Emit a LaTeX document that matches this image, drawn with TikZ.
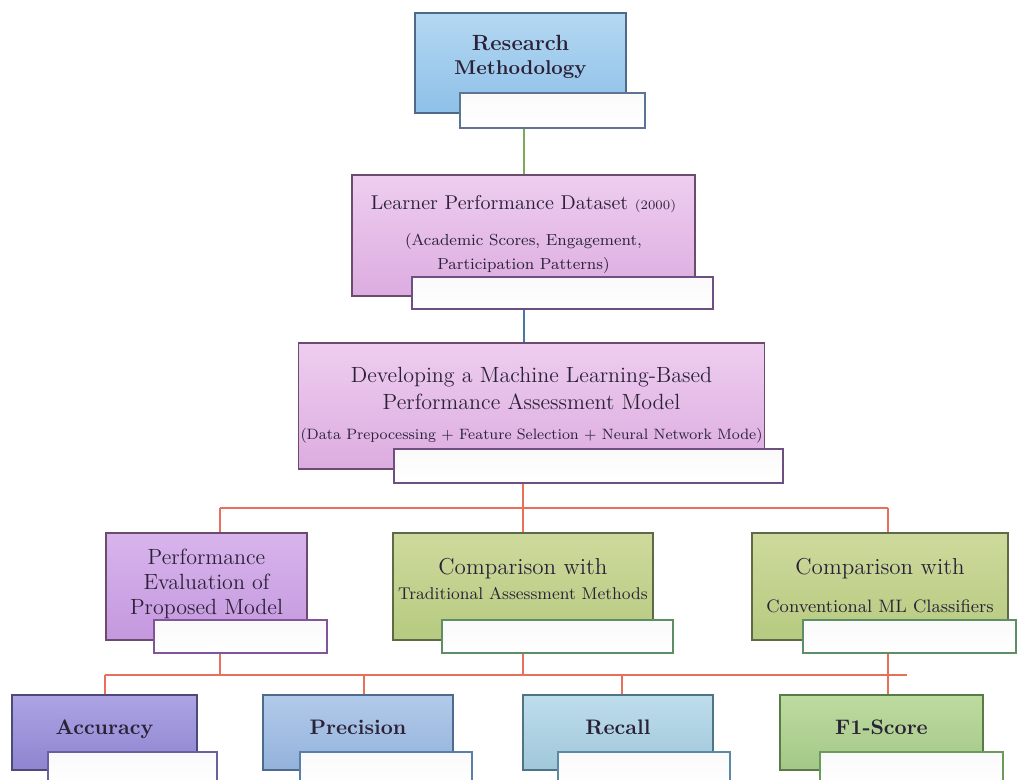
\documentclass[tikz,border=0pt]{standalone}
\usepackage{amsmath}

\definecolor{inkc}{HTML}{2B2238}
\definecolor{rmtop}{HTML}{B4D8F2}
\definecolor{rmbot}{HTML}{8EC0E8}
\definecolor{rmline}{HTML}{4E6A88}
\definecolor{pktop}{HTML}{EECDEF}
\definecolor{pkbot}{HTML}{DCACE0}
\definecolor{pkline}{HTML}{6B4B6E}
\definecolor{vltop}{HTML}{D8B4EC}
\definecolor{vlbot}{HTML}{C498DE}
\definecolor{grtop}{HTML}{CDDA9C}
\definecolor{grbot}{HTML}{B7CA80}
\definecolor{grline}{HTML}{5C6B45}
\definecolor{actop}{HTML}{ACA4E4}
\definecolor{acbot}{HTML}{8E84D0}
\definecolor{acline}{HTML}{4E4A78}
\definecolor{prtop}{HTML}{B2CAEA}
\definecolor{prbot}{HTML}{93B2DB}
\definecolor{prline}{HTML}{4E6A8C}
\definecolor{retop}{HTML}{BEDDEB}
\definecolor{rebot}{HTML}{A0C7DA}
\definecolor{reline}{HTML}{4E7486}
\definecolor{fotop}{HTML}{BEDBA0}
\definecolor{fobot}{HTML}{A3C886}
\definecolor{foline}{HTML}{5A7A48}
\definecolor{rmtabc}{HTML}{5B7592}
\definecolor{pktabc}{HTML}{6E4F82}
\definecolor{vltabc}{HTML}{80559A}
\definecolor{grtabc}{HTML}{5E8E66}
\definecolor{actabc}{HTML}{6A60A0}
\definecolor{prtabc}{HTML}{5A7EA6}
\definecolor{retabc}{HTML}{5A8AA4}
\definecolor{fotabc}{HTML}{6A9A5C}
\definecolor{lkgreen}{HTML}{7AAA55}
\definecolor{lkblue}{HTML}{4678A6}
\definecolor{lkred}{HTML}{E8705A}

\begin{document}
\begin{tikzpicture}[x=0.5pt, y=-0.5pt,
  box/.style={draw=#1, line width=0.7pt, align=center, inner sep=1pt, text=inkc},
  tab/.style={draw=#1, top color=black!2, middle color=black!5, bottom color=white, line width=0.7pt, inner sep=0pt},
  link/.style={draw=#1, line width=1pt}]
\useasboundingbox (0,0) rectangle (1017,780);

\node[box=rmline, top color=rmtop, bottom color=rmbot, minimum width=105.5pt, minimum height=50pt, text depth=8pt] (rm) at (520.5,63)
  {\fontsize{11}{13}\selectfont\bfseries Research\\[0pt]\bfseries Methodology};
\node[tab=rmtabc, minimum width=92.5pt, minimum height=17.5pt] (rmtab) at (552.5,110.5) {};

\node[box=pkline, top color=pktop, bottom color=pkbot, minimum width=171.5pt, minimum height=60.5pt, text depth=3.5pt] (ds) at (523.5,235.5)
  {\fontsize{10}{12}\selectfont Learner Performance Dataset {\fontsize{6.5}{8}\selectfont(2000)}\\[6pt]
   \fontsize{8}{10}\selectfont (Academic Scores, Engagement,\\ \fontsize{8}{10}\selectfont Participation Patterns)};
\node[tab=pktabc, minimum width=150.5pt, minimum height=16pt] (dstab) at (562.5,293) {};

\node[box=pkline, top color=pktop, bottom color=pkbot, minimum width=231.5pt, minimum height=63pt, text depth=2.5pt] (dev) at (531.5,406)
  {\fontsize{11}{13.5}\selectfont Developing a Machine Learning-Based\\[1.5pt] \fontsize{11}{13.5}\selectfont Performance Assessment Model\\[3pt]
   \fontsize{7.5}{9}\selectfont (Data Prepocessing + Feature Selection + Neural Network Mode)};
\node[tab=pktabc, minimum width=194.5pt, minimum height=17pt] (devtab) at (588.5,466) {};

\node[box=pkline, top color=vltop, bottom color=vlbot, minimum width=100.5pt, minimum height=53.5pt, text depth=4.5pt] (pe) at (206.5,586.5)
  {\fontsize{11}{12.5}\selectfont Performance\\[0.5pt] \fontsize{11}{12.5}\selectfont Evaluation of\\[0.5pt] \fontsize{11}{12.5}\selectfont Proposed Model};
\node[tab=vltabc, minimum width=86.5pt, minimum height=16.5pt] (petab) at (240.5,636.5) {};

\node[box=grline, top color=grtop, bottom color=grbot, minimum width=130pt, minimum height=53.5pt, text depth=7.5pt] (ct) at (523,586.5)
  {\fontsize{11.5}{13}\selectfont Comparison with\\[0.5pt] \fontsize{8.5}{13}\selectfont Traditional Assessment Methods};
\node[tab=grtabc, minimum width=115.5pt, minimum height=16.5pt] (cttab) at (557.5,636.5) {};

\node[box=grline, top color=grtop, bottom color=grbot, minimum width=128pt, minimum height=53.5pt, text depth=1pt] (cc) at (880,586.5)
  {\fontsize{11.5}{13}\selectfont Comparison with\\[7pt] \fontsize{9}{13}\selectfont Conventional ML Classifiers};
\node[tab=grtabc, minimum width=106.5pt, minimum height=16.5pt] (cctab) at (909.5,636.5) {};

\node[box=acline, top color=actop, bottom color=acbot, minimum width=92.5pt, minimum height=37.5pt, text depth=5.5pt] (acc) at (104.5,732.5)
  {\fontsize{10.5}{12}\selectfont\bfseries Accuracy};
\node[tab=actabc, minimum width=84.5pt, minimum height=19pt] (acctab) at (132.5,771) {};

\node[box=prline, top color=prtop, bottom color=prbot, minimum width=95pt, minimum height=37.5pt, text depth=5.5pt] (prec) at (358,732.5)
  {\fontsize{10.5}{12}\selectfont\bfseries Precision};
\node[tab=prtabc, minimum width=86pt, minimum height=19pt] (prectab) at (386,771) {};

\node[box=reline, top color=retop, bottom color=rebot, minimum width=95pt, minimum height=37.5pt, text depth=5.5pt] (rec) at (618,732.5)
  {\fontsize{10.5}{12}\selectfont\bfseries Recall};
\node[tab=retabc, minimum width=86pt, minimum height=19pt] (rectab) at (644,771) {};

\node[box=foline, top color=fotop, bottom color=fobot, minimum width=101.5pt, minimum height=37.5pt, text depth=5.5pt] (fone) at (881.5,732.5)
  {\fontsize{10.5}{12}\selectfont\bfseries F1-Score};
\node[tab=fotabc, minimum width=91.5pt, minimum height=19pt] (fonetab) at (911.5,771) {};

\coordinate (hubA) at (523,508);
\coordinate (hubL) at (220,508);
\coordinate (hubR) at (888,508);
\coordinate (hubB) at (523,675);
\coordinate (lowL) at (104.5,675);
\coordinate (lowR) at (907,675);

\draw[link=lkgreen] (rmtab.south -| ds.north) -- (ds.north);
\draw[link=lkblue] (dstab.south -| ds.south) -- (ds.south |- dev.north);
\draw[link=lkred] (devtab.south -| hubA) -- (hubA) -- (ct.north);
\draw[link=lkred] (hubL) -- (hubR);
\draw[link=lkred] (hubL) -- (hubL |- pe.north);
\draw[link=lkred] (hubR) -- (hubR |- cc.north);
\draw[link=lkred] (lowL) -- (lowR);
\draw[link=lkred] (petab.south -| hubL) -- (hubL |- lowL);
\draw[link=lkred] (cttab.south -| hubB) -- (hubB);
\draw[link=lkred] (cctab.south -| hubR) -- (hubR |- fone.north);
\draw[link=lkred] (lowL) -- (acc.north);
\draw[link=lkred] (lowL -| 364,0) -- (364,0 |- prec.north);
\draw[link=lkred] (lowL -| 622,0) -- (622,0 |- rec.north);
\end{tikzpicture}
\end{document}
